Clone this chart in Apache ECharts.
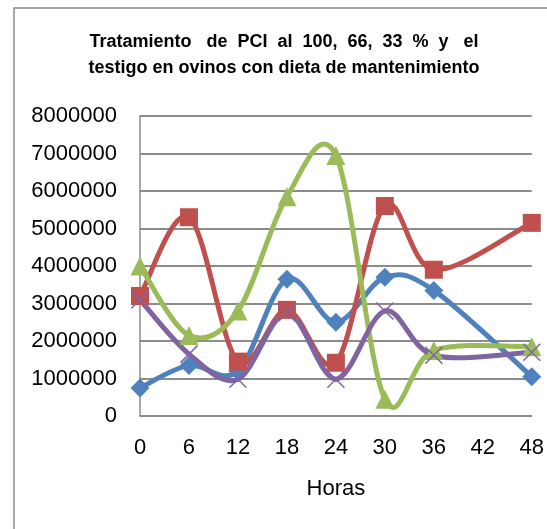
<!DOCTYPE html>
<html>
<head>
<meta charset="utf-8">
<script src="https://cdn.jsdelivr.net/npm/echarts@6/dist/echarts.min.js"></script>
<style>
  html, body { margin: 0; padding: 0; background: #fff; }
  #chart { width: 547px; height: 529px; }
</style>
</head>
<body>
<div id="chart"></div>
<script>
const hours = [0, 6, 12, 18, 24, 30, 36, 48]
const seriesNames = ['100 %', '66 %', '33 %', 'Testigo']
const blueValues = [750000, 1350000, 1200000, 3650000, 2500000, 3700000, 3350000, 1050000]
const redValues = [3200000, 5300000, 1450000, 2830000, 1420000, 5600000, 3900000, 5150000]
const greenValues = [4000000, 2150000, 2800000, 5850000, 6950000, 450000, 1750000, 1850000]
const purpleValues = [3100000, 1650000, 980000, 2750000, 980000, 2800000, 1620000, 1700000]
const xTicks = [0, 6, 12, 18, 24, 30, 36, 42, 48]

const font = "'Liberation Sans', Arial, sans-serif"
const crossPath = 'path://M0,0 L10,10 M10,0 L0,10'

const chart = echarts.init(document.getElementById('chart'), null, { renderer: 'canvas' })

function pairs(values) {
  return values.map((v, i) => [hours[i], v])
}

// smoothed line like the spreadsheet: bezier segments, control points at 1/6 of neighbour span
function curveSeries(name, values, color) {
  const n = values.length
  return {
    name: name,
    type: 'custom',
    data: pairs(values),
    encode: { x: 0, y: 1 },
    silent: true,
    z: 2,
    renderItem: function(params, api) {
      const i = params.dataIndex
      if (i >= n - 1) return null
      const pt = function(j) {
        const k = Math.max(0, Math.min(n - 1, j))
        return api.coord([hours[k], values[k]])
      }
      const p0 = pt(i - 1)
      const p1 = pt(i)
      const p2 = pt(i + 1)
      const p3 = pt(i + 2)
      return {
        type: 'bezierCurve',
        shape: {
          x1: p1[0], y1: p1[1],
          x2: p2[0], y2: p2[1],
          cpx1: p1[0] + (p2[0] - p0[0]) / 6,
          cpy1: p1[1] + (p2[1] - p0[1]) / 6,
          cpx2: p2[0] - (p3[0] - p1[0]) / 6,
          cpy2: p2[1] - (p3[1] - p1[1]) / 6
        },
        style: { stroke: color, fill: null, lineWidth: 5, lineCap: 'round' }
      }
    }
  }
}

function markerSeries(name, values, color, symbol, size) {
  return {
    name: name,
    type: 'scatter',
    data: pairs(values),
    symbol: symbol,
    symbolSize: size,
    itemStyle: { color: color, opacity: 1 },
    z: 3
  }
}

const purpleMarks = markerSeries(seriesNames[3], purpleValues, '#8064A2', crossPath, 17)
purpleMarks.itemStyle = { color: 'none', borderColor: '#8064A2', borderWidth: 1.5, opacity: 1 }

chart.setOption({
  animation: false,
  textStyle: { fontFamily: font },
  title: {
    text: 'Tratamiento   de  PCI  al  100,  66,  33  %  y   el\ntestigo en ovinos con dieta de mantenimiento',
    left: 279,
    top: 24,
    textAlign: 'center',
    textStyle: {
      fontFamily: font,
      fontSize: 18,
      fontWeight: 'bold',
      color: '#000',
      lineHeight: 26
    }
  },
  graphic: [{
    type: 'rect',
    shape: { x: 14, y: 8, width: 600, height: 600 },
    style: { fill: 'none', stroke: '#8c8c8c', lineWidth: 1.5 },
    silent: true
  }],
  grid: { left: 140, right: 15, top: 116, bottom: 113, containLabel: false },
  xAxis: {
    type: 'value',
    min: 0,
    max: 48,
    interval: 6,
    name: 'Horas',
    nameLocation: 'middle',
    nameGap: 62,
    nameTextStyle: { fontFamily: font, fontSize: 22, color: '#000' },
    axisLine: { show: true, lineStyle: { color: '#8c8c8c', width: 1.5 } },
    axisTick: { show: false },
    splitLine: { show: false },
    axisLabel: {
      margin: 21,
      fontFamily: font,
      fontSize: 22,
      color: '#000',
      formatter: function (v) { return xTicks.indexOf(v) >= 0 ? String(v) : '' }
    }
  },
  yAxis: {
    type: 'value',
    min: 0,
    max: 8000000,
    interval: 1000000,
    axisLine: { show: true, lineStyle: { color: '#8c8c8c', width: 1.5 } },
    axisTick: { show: false },
    splitLine: { show: true, lineStyle: { color: '#8c8c8c', width: 1.8 } },
    axisLabel: {
      margin: 23,
      fontFamily: font,
      fontSize: 22,
      color: '#000',
      formatter: function (v) { return String(v) }
    }
  },
  series: [
    curveSeries(seriesNames[0], blueValues, '#4F81BD'),
    markerSeries(seriesNames[0], blueValues, '#4F81BD', 'diamond', 19),
    curveSeries(seriesNames[1], redValues, '#C0504D'),
    markerSeries(seriesNames[1], redValues, '#C0504D', 'rect', 18),
    curveSeries(seriesNames[2], greenValues, '#9BBB59'),
    markerSeries(seriesNames[2], greenValues, '#9BBB59', 'triangle', 19),
    curveSeries(seriesNames[3], purpleValues, '#8064A2'),
    purpleMarks
  ]
})
</script>
</body>
</html>
